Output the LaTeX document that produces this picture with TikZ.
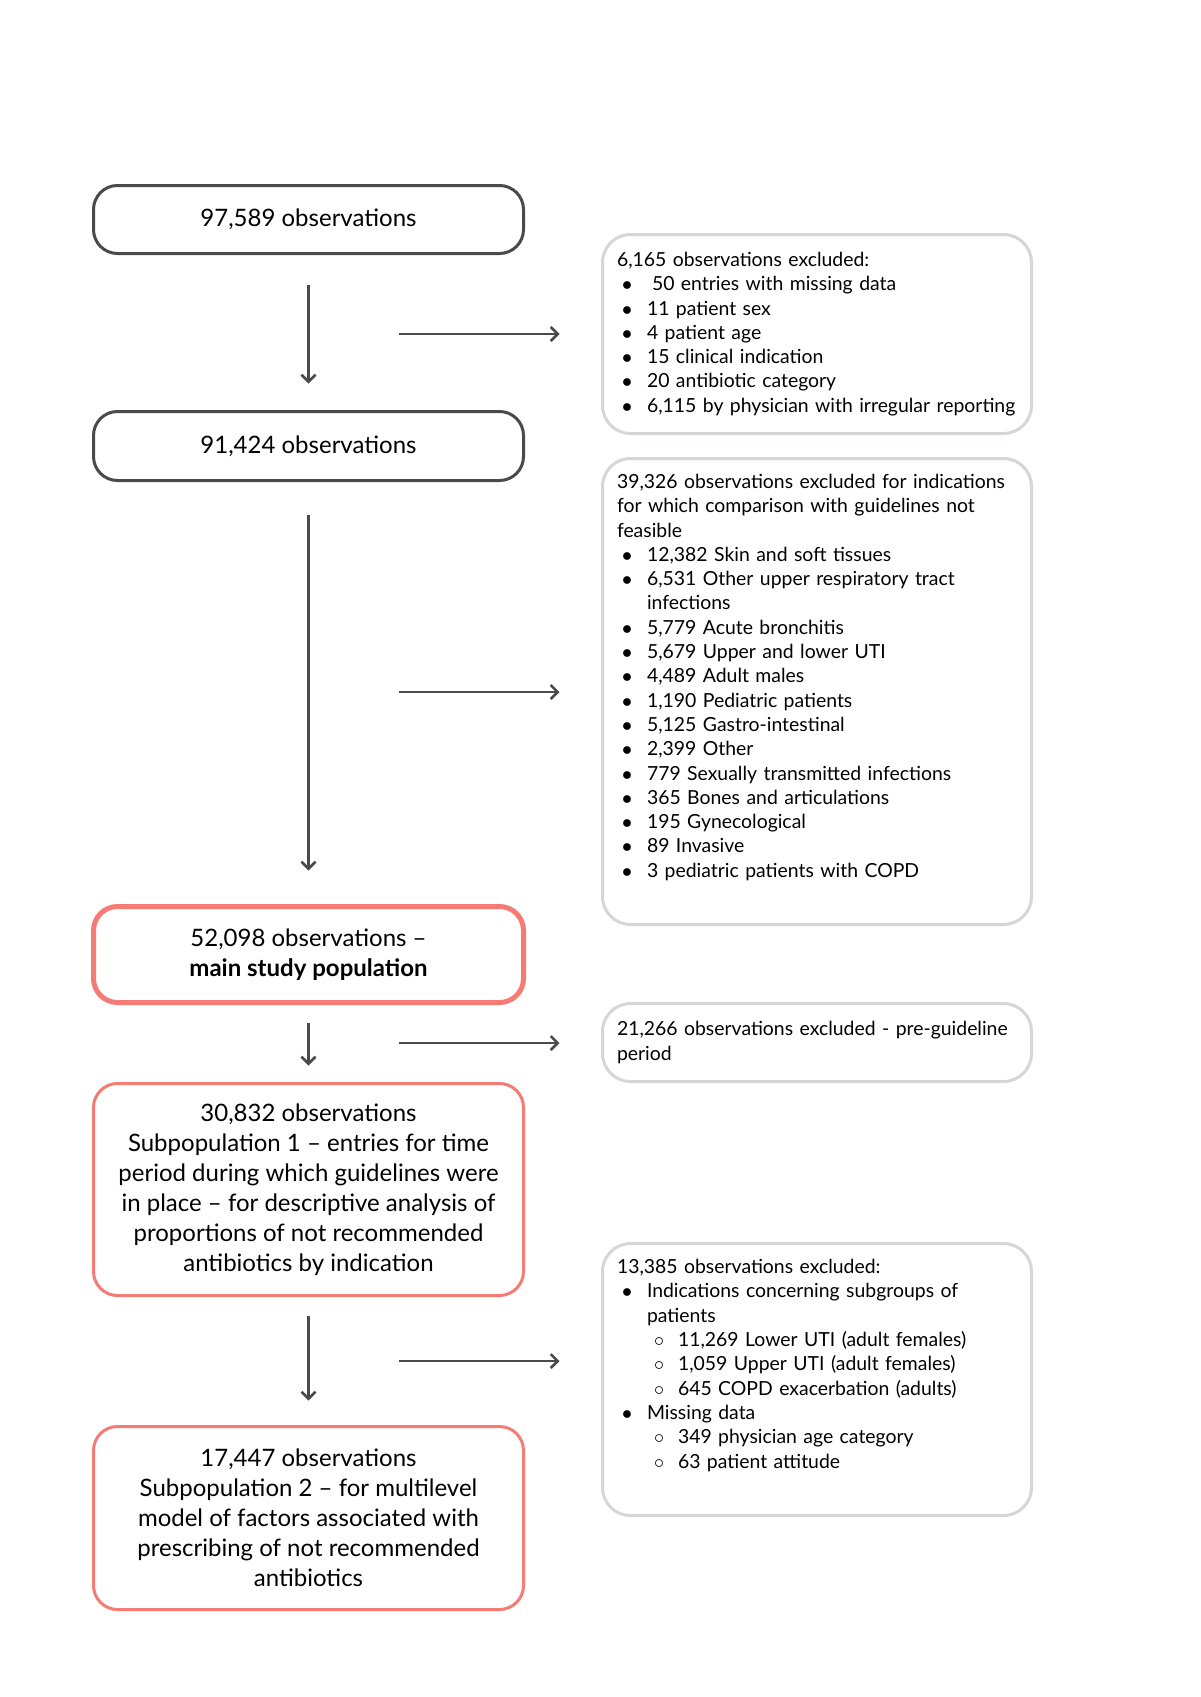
\documentclass[tikz,border=0pt]{standalone}
\usepackage{fontspec}
\setmainfont{Lato}
\usetikzlibrary{arrows.meta}

\definecolor{boxgrey}{HTML}{4A4A4A}
\definecolor{exgrey}{HTML}{D5D7D7}
\definecolor{salmon}{HTML}{F47C74}
\definecolor{arrgrey}{HTML}{4A4A4A}

\newcommand{\bul}[1]{\hspace*{2.5pt}\makebox[12.5pt][l]{$\bullet$}#1}
\newcommand{\subbul}[1]{\hspace*{18.5pt}\makebox[12pt][l]{$\circ$}#1}
\newcommand{\cont}[1]{\hspace*{15pt}#1}

\begin{document}
\begin{tikzpicture}[x=0.5pt,y=-0.5pt,
  obsbox/.style={draw=boxgrey,line width=1.5pt,rounded corners=12pt,minimum width=215pt,align=center,font=\fontsize{12}{15}\selectfont},
  redbox/.style={obsbox,draw=salmon},
  exclbox/.style={draw=exgrey,line width=1.5pt,rounded corners=14pt,text width=200pt,inner xsep=7.25pt,align=left,font=\fontsize{9.7}{12.15}\selectfont},
  arr/.style={draw=arrgrey,line width=1.25pt,-{Straight Barb[length=3.5pt,width=7pt]}}]
\fill[white] (0,0) rectangle (1200,1697);
\useasboundingbox (0,0) rectangle (1200,1697);

% left column
\node[obsbox,minimum height=34pt] (n1) at (308.5,219.5) {97,589 observations};
\node[obsbox,minimum height=34.5pt] (n2) at (308.5,446) {91,424 observations};
\node[redbox,line width=2.5pt,minimum height=48pt] (main) at (308.5,954.5) {52,098 observations –\\\textbf{main study population}};
\node[redbox,minimum height=106pt] (sub1) at (308.5,1189.5) {30,832 observations\\Subpopulation 1 – entries for time\\period during which guidelines were\\in place – for descriptive analysis of\\proportions of not recommended\\antibiotics by indication};
\node[redbox,minimum height=91.5pt] (sub2) at (308.5,1518) {17,447 observations\\Subpopulation 2 – for multilevel\\model of factors associated with\\prescribing of not recommended\\antibiotics};

% right column
\node[exclbox,minimum height=99.5pt] (ex1) at (817,334) {6,165 observations excluded:\\
\bul{\hspace{2.5pt}50 entries with missing data}\\
\bul{11 patient sex}\\
\bul{4 patient age}\\
\bul{15 clinical indication}\\
\bul{20 antibiotic category}\\
\bul{6,115 by physician with irregular reporting}};
\node[exclbox,minimum height=233pt] (ex2) at (817,691.5) {39,326 observations excluded for indications\\
for which comparison with guidelines not\\
feasible\\
\bul{12,382 Skin and soft tissues}\\
\bul{6,531 Other upper respiratory tract}\\
\cont{infections}\\
\bul{5,779 Acute bronchitis}\\
\bul{5,679 Upper and lower UTI}\\
\bul{4,489 Adult males}\\
\bul{1,190 Pediatric patients}\\
\bul{5,125 Gastro-intestinal}\\
\bul{2,399 Other}\\
\bul{779 Sexually transmitted infections}\\
\bul{365 Bones and articulations}\\
\bul{195 Gynecological}\\
\bul{89 Invasive}\\
\bul{3 pediatric patients with COPD}\\
\strut};
\node[exclbox,minimum height=39pt] (ex3) at (817,1042.5) {21,266 observations excluded - pre-guideline\\period};
\node[exclbox,minimum height=136pt] (ex4) at (817,1379.5) {13,385 observations excluded:\\
\bul{Indications concerning subgroups of}\\
\cont{patients}\\
\subbul{11,269 Lower UTI (adult females)}\\
\subbul{1,059 Upper UTI (adult females)}\\
\subbul{645 COPD exacerbation (adults)}\\
\bul{Missing data}\\
\subbul{349 physician age category}\\
\subbul{63 patient attitude}\\
\strut};

% arrows down
\draw[arr,shorten <=14.75pt,shorten >=13.25pt] (n1) -- (n2);
\draw[arr,shorten <=16.25pt,shorten >=16.75pt] (n2) -- (main);
\draw[arr,shorten <=8.75pt,shorten >=8.25pt] (main) -- (sub1);
\draw[arr,shorten <=9.25pt,shorten >=12.25pt] (sub1) -- (sub2);

% arrows right
\coordinate (r1) at (399,334);
\coordinate (r2) at (399,692);
\coordinate (r3) at (399,1043);
\coordinate (r4) at (399,1361);
\foreach \i in {1,2,3,4}
  \draw[arr,shorten >=20.75pt] (r\i) -- (r\i -| ex\i.west);
\end{tikzpicture}
\end{document}
